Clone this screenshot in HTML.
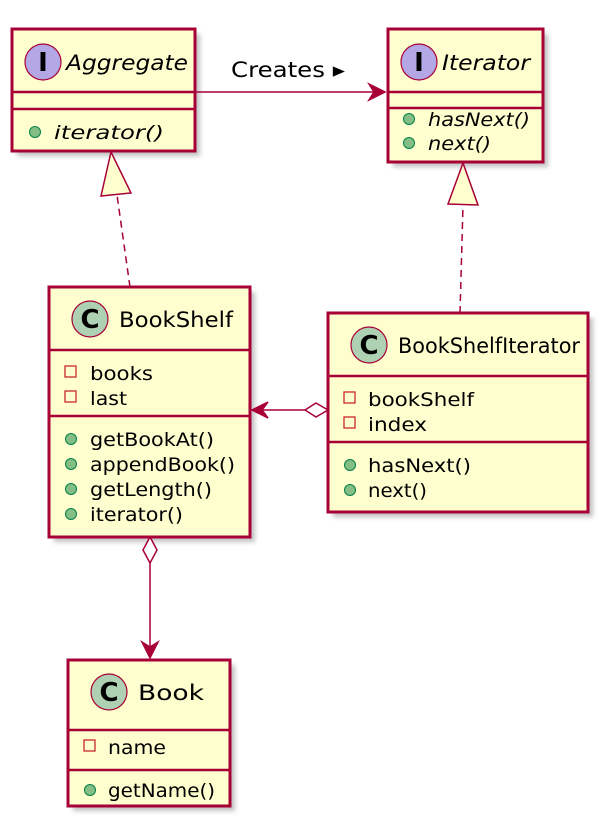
<!DOCTYPE html>
<html><head><style>
body{margin:0;background:#fff}
svg text{font-family:"DejaVu Sans","Liberation Sans",sans-serif;fill:#000}
</style></head><body>
<svg width="606" height="827" viewBox="0 0 606 827" xmlns="http://www.w3.org/2000/svg">
<defs><filter id="sh" x="-10%" y="-10%" width="130%" height="130%"><feGaussianBlur stdDeviation="2.5"/></filter></defs>
<g fill="#999" opacity="0.6" filter="url(#sh)">
<rect x="17" y="34" width="183" height="122"/>
<rect x="393" y="34" width="155" height="133"/>
<rect x="54" y="292" width="201" height="250"/>
<rect x="333" y="318" width="260" height="199"/>
<rect x="73" y="665" width="162" height="146"/>
</g>
<g fill="#FEFECE" stroke="#A80036" stroke-width="3">
<rect x="12" y="29" width="183" height="122"/>
<rect x="388" y="29" width="155" height="133"/>
<rect x="49" y="287" width="201" height="250"/>
<rect x="328" y="313" width="260" height="199"/>
<rect x="68" y="660" width="162" height="146"/>
</g>
<g stroke="#A80036" stroke-width="2.5">
<line x1="12" y1="92" x2="195" y2="92"/><line x1="12" y1="109" x2="195" y2="109"/>
<line x1="388" y1="92" x2="543" y2="92"/><line x1="388" y1="108" x2="543" y2="108"/>
<line x1="49" y1="350" x2="250" y2="350"/><line x1="49" y1="416" x2="250" y2="416"/>
<line x1="328" y1="376" x2="588" y2="376"/><line x1="328" y1="442" x2="588" y2="442"/>
<line x1="68" y1="730" x2="230" y2="730"/><line x1="68" y1="770" x2="230" y2="770"/>
</g>
<g stroke="#A80036" stroke-width="1.2">
<circle cx="43" cy="62" r="18" fill="#B4A7E5"/>
<circle cx="419" cy="62" r="18" fill="#B4A7E5"/>
<circle cx="90" cy="319" r="18" fill="#ADD1B2"/>
<circle cx="369" cy="345" r="18" fill="#ADD1B2"/>
<circle cx="109" cy="692" r="18" fill="#ADD1B2"/>
</g>
<g font-weight="bold" font-size="26" text-anchor="middle" style="font-family:'DejaVu Sans Mono',monospace">
<text x="43" y="71">I</text><text x="419" y="71">I</text>
<text x="90" y="328">C</text><text x="369" y="354">C</text><text x="109" y="701">C</text>
</g>
<g font-size="21" lengthAdjust="spacingAndGlyphs">
<text x="66" y="70" font-style="italic" textLength="122" lengthAdjust="spacingAndGlyphs">Aggregate</text>
<text x="442" y="70" font-style="italic" textLength="88" lengthAdjust="spacingAndGlyphs">Iterator</text>
<text x="119" y="327" textLength="114" lengthAdjust="spacingAndGlyphs">BookShelf</text>
<text x="398" y="353" textLength="182" lengthAdjust="spacingAndGlyphs">BookShelfIterator</text>
<text x="138" y="700" textLength="66" lengthAdjust="spacingAndGlyphs">Book</text>
<text x="231" y="77" textLength="114" lengthAdjust="spacingAndGlyphs">Creates ▸</text>
</g>
<g font-size="19">
<text x="54" y="139" font-style="italic" textLength="110" lengthAdjust="spacingAndGlyphs">iterator()</text>
<text x="428" y="126" font-style="italic" textLength="102" lengthAdjust="spacingAndGlyphs">hasNext()</text>
<text x="428" y="150" font-style="italic" textLength="63" lengthAdjust="spacingAndGlyphs">next()</text>
<text x="90" y="380" textLength="63" lengthAdjust="spacingAndGlyphs">books</text>
<text x="90" y="405" textLength="37" lengthAdjust="spacingAndGlyphs">last</text>
<text x="90" y="446" textLength="124" lengthAdjust="spacingAndGlyphs">getBookAt()</text>
<text x="90" y="471" textLength="145" lengthAdjust="spacingAndGlyphs">appendBook()</text>
<text x="90" y="496" textLength="122" lengthAdjust="spacingAndGlyphs">getLength()</text>
<text x="90" y="521" textLength="93" lengthAdjust="spacingAndGlyphs">iterator()</text>
<text x="368" y="406" textLength="106" lengthAdjust="spacingAndGlyphs">bookShelf</text>
<text x="368" y="431" textLength="59" lengthAdjust="spacingAndGlyphs">index</text>
<text x="368" y="472" textLength="103" lengthAdjust="spacingAndGlyphs">hasNext()</text>
<text x="368" y="497" textLength="59" lengthAdjust="spacingAndGlyphs">next()</text>
<text x="108" y="754" textLength="58" lengthAdjust="spacingAndGlyphs">name</text>
<text x="108" y="797" textLength="107" lengthAdjust="spacingAndGlyphs">getName()</text>
</g>
<g fill="#84BE84" stroke="#038048" stroke-width="1">
<circle cx="35" cy="132" r="5.5"/>
<circle cx="409" cy="119" r="5.5"/><circle cx="409" cy="143" r="5.5"/>
<circle cx="71" cy="439" r="5.5"/><circle cx="71" cy="464" r="5.5"/><circle cx="71" cy="489" r="5.5"/><circle cx="71" cy="514" r="5.5"/>
<circle cx="350" cy="465" r="5.5"/><circle cx="350" cy="490" r="5.5"/>
<circle cx="90" cy="790" r="5.5"/>
</g>
<g fill="none" stroke="#C82930" stroke-width="1.3">
<rect x="65" y="366" width="11" height="11"/><rect x="65" y="391" width="11" height="11"/>
<rect x="344" y="392" width="11" height="11"/><rect x="344" y="417" width="11" height="11"/>
<rect x="84" y="740" width="11" height="11"/>
</g>
<g stroke="#A80036" stroke-width="1.5" fill="none">
<line x1="195" y1="92" x2="383" y2="92"/>
<polygon points="369,84 385,92 369,100 374,92" fill="#A80036"/>
<line x1="130" y1="287" x2="117" y2="195" stroke-dasharray="7,5"/>
<polygon points="111,152 101,196 131,193" fill="#FEFECE"/>
<line x1="460" y1="313" x2="463" y2="205" stroke-dasharray="7,5"/>
<polygon points="463,163 448,204 478,205" fill="#FEFECE"/>
<line x1="252" y1="410" x2="305" y2="410"/>
<polygon points="268,402 252,410 268,418 262,410" fill="#A80036"/>
<polygon points="305,410 316,403 328,410 316,417" fill="#fff"/>
<line x1="150" y1="563" x2="150" y2="655"/>
<polygon points="150,537 157,550 150,563 143,550" fill="#fff"/>
<polygon points="142,642 150,658 158,642 150,647" fill="#A80036"/>
</g>
</svg>
</body></html>
